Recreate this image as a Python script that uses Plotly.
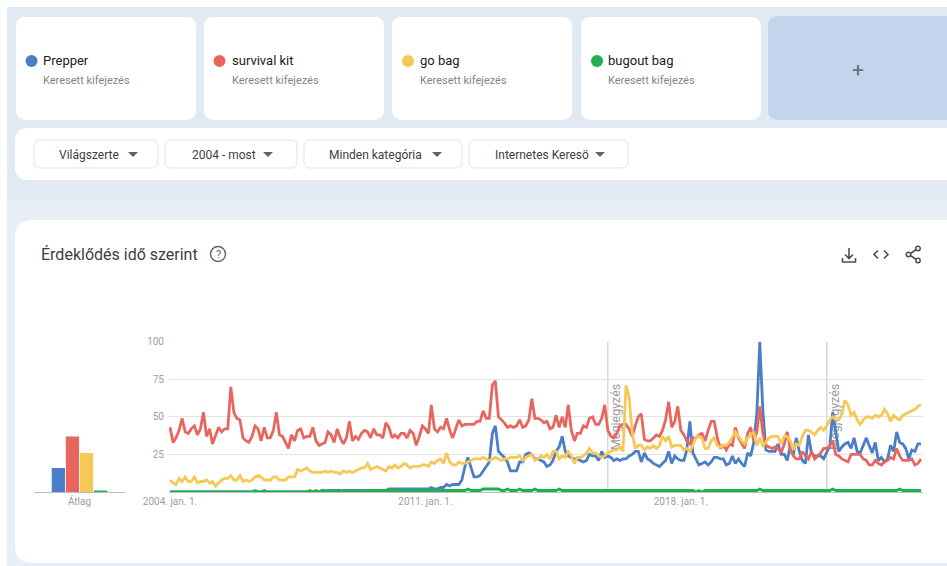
import pandas as pd
import plotly.graph_objects as go

W, H = 947, 566

series_names = ["Prepper", "survival kit", "go bag", "bugout bag"]
series_colors = ["#4C7EC8", "#E9665F", "#F6C855", "#22AE52"]
subtitle = "Keresett kifejezés"
filters = ["Világszerte", "2004 - most", "Minden kategória", "Internetes Keresö"]
title_text = "Érdeklődés idő szerint"
avg_label = "Átlag"
y_ticks = [25, 50, 75, 100]
x_tick_dates = ["2004-01-01", "2011-01-01", "2018-01-01"]
x_tick_labels = ["2004. jan. 1.", "2011. jan. 1.", "2018. jan. 1."]
note_label = "Megjegyzés"
note_dates = ["2016-01-01", "2022-01-01"]
averages = [16, 37, 26, 1]

months = pd.date_range("2004-01-01", periods=248, freq="MS")

prepper = [
 0,0,0,0,0,0,0,0,0,0,0,0,0,0,0,0,0,0,0,0,0,0,0,0,0,0,0,0,0,0,0,0,0,0,0,0,0,0,0,0,
 0,0,0,0,0,0,0,0,0,0,1,0,1,1,1,1,0,1,1,1,1,1,1,1,1,1,1,1,1,1,1,1,2,2,2,2,2,2,2,2,
 2,2,2,2,2,2,3,2,2,3,3,5,4,5,5,5,8,17,23,16,10,10,11,14,17,20,39,44,27,25,23,20,14,14,14,20,20,25,26,25,
 22,22,21,20,17,18,21,27,30,37,27,24,23,22,22,21,20,21,25,24,24,21,27,23,24,23,21,22,21,22,22,24,25,27,27,20,26,22,21,19,
 18,17,19,21,27,19,24,22,21,21,28,47,26,22,18,19,20,18,20,23,23,22,22,18,19,24,19,22,19,17,26,24,33,53,100,54,28,27,27,27,
 32,25,25,21,31,25,36,27,21,19,38,26,24,24,24,22,26,31,53,39,27,30,32,33,29,36,27,26,31,36,31,26,33,21,23,20,22,31,27,40,
 33,32,29,22,28,27,32,32]
survival_kit = [
 43,33,36,41,49,40,39,42,44,38,42,53,37,42,32,37,43,40,42,42,70,53,49,48,36,34,33,37,44,42,34,43,36,36,41,53,38,37,33,29,
 38,34,41,42,36,37,37,43,34,31,32,33,40,38,33,42,36,32,36,47,34,37,35,39,41,40,36,42,38,38,36,46,43,36,38,36,39,39,36,41,
 39,31,37,44,42,39,58,42,40,43,42,49,41,36,42,48,44,45,45,45,45,47,47,54,49,49,71,74,50,48,46,43,44,43,44,48,43,44,48,62,
 49,49,48,46,47,42,43,51,43,50,43,58,41,34,39,39,44,43,49,50,45,45,49,58,41,37,36,39,44,45,45,42,37,44,50,52,35,34,34,36,
 38,37,41,48,60,43,47,57,41,38,34,32,36,36,38,39,34,41,47,47,36,29,31,28,32,31,43,36,32,29,39,43,34,40,57,39,31,30,29,30,
 29,26,32,40,28,24,22,22,27,24,22,27,22,24,26,29,29,31,34,25,24,22,21,20,25,25,25,25,22,21,18,18,21,19,18,20,21,23,22,29,
 24,21,21,21,22,18,19,22]
go_bag = [
 8,6,5,9,7,10,7,7,10,6,7,7,8,6,7,4,6,8,9,9,11,8,8,11,7,8,7,8,10,11,10,8,8,8,10,10,8,8,8,10,
 10,10,15,14,15,16,14,13,13,13,13,14,13,14,13,13,12,14,13,14,13,14,15,16,16,19,15,16,17,16,15,14,17,16,18,16,17,19,18,16,
 17,17,17,18,18,17,20,19,21,22,19,26,20,18,18,20,19,19,20,21,22,22,22,23,22,21,22,23,22,21,22,22,23,23,23,24,21,23,24,25,
 21,22,24,23,25,22,27,27,22,24,23,27,24,19,23,23,24,26,29,26,26,24,23,24,26,27,28,28,30,27,71,63,39,29,31,31,28,30,29,31,
 29,31,37,34,37,30,31,31,31,28,29,27,32,36,37,36,29,29,34,36,31,30,31,31,33,37,40,37,34,32,36,38,40,31,36,31,33,36,37,37,
 37,32,37,37,34,28,32,31,37,41,41,40,38,41,43,41,44,48,50,48,48,52,61,58,51,53,48,45,48,50,50,49,51,50,51,55,52,47,51,49,
 48,51,52,53,54,55,57,58]
bugout_bag = [
 0,0,0,0,0,0,0,0,0,0,0,0,0,0,0,0,0,0,0,0,0,0,0,0,0,0,0,0,1,0,0,1,0,0,0,0,0,0,0,0,
 0,0,0,0,0,0,1,0,1,0,1,1,0,1,0,1,1,0,1,0,1,1,0,1,1,0,1,1,1,1,1,1,1,1,1,1,1,1,1,1,
 1,1,1,1,1,1,1,1,1,1,1,1,1,1,1,1,1,1,2,1,1,1,1,2,2,2,2,2,2,1,1,2,1,1,1,2,1,1,1,1,
 2,1,1,1,1,1,1,1,2,1,1,1,1,1,1,1,1,1,1,1,1,1,1,1,1,1,1,1,1,1,1,1,1,1,1,1,1,1,1,1,
 1,1,1,1,1,1,1,1,1,1,1,1,1,0,1,0,1,1,1,1,1,1,1,1,1,1,1,1,1,1,1,1,1,1,2,1,1,1,1,1,
 1,1,1,1,1,1,1,1,1,1,1,1,1,1,1,1,1,1,2,1,1,1,1,1,1,1,1,1,1,1,1,1,1,1,1,1,1,1,1,1,
 2,1,1,1,1,1,1,1]
all_values = [prepper, survival_kit, go_bag, bugout_bag]
for v in all_values:
    if len(v) != 248:
        raise SystemExit(f"bad length {len(v)}")


def X(x):
    return x / W


def Y(y):
    return 1 - y / H


def path(cmds):
    out = []
    for c in cmds:
        letter, nums = c[0], c[1:]
        pts = " ".join(f"{X(nums[i]):.5f},{Y(nums[i+1]):.5f}" for i in range(0, len(nums), 2))
        out.append(letter + " " + pts)
    return " ".join(out)


def rrect(x0, y0, x1, y1, r, fill, line=None, lw=0):
    d = path([
        ("M", x0 + r, y0), ("L", x1 - r, y0), ("Q", x1, y0, x1, y0 + r),
        ("L", x1, y1 - r), ("Q", x1, y1, x1 - r, y1), ("L", x0 + r, y1),
        ("Q", x0, y1, x0, y1 - r), ("L", x0, y0 + r), ("Q", x0, y0, x0 + r, y0),
    ]) + " Z"
    return dict(type="path", path=d, xref="paper", yref="paper", layer="below",
                fillcolor=fill, line=dict(color=line or "rgba(0,0,0,0)", width=lw))


def stroke(cmds, color="#4b5055", lw=1.6):
    return dict(type="path", path=path(cmds), xref="paper", yref="paper", layer="above",
                line=dict(color=color, width=lw))


def circle(cx, cy, r, fill, line=None, lw=0):
    return dict(type="circle", xref="paper", yref="paper", layer="below",
                x0=X(cx - r), x1=X(cx + r), y0=Y(cy + r), y1=Y(cy - r),
                fillcolor=fill, line=dict(color=line or "rgba(0,0,0,0)", width=lw))


def text(x, y, s, size, color, anchor="left", family="Roboto, Arial, sans-serif"):
    return dict(x=X(x), y=Y(y), xref="paper", yref="paper", text=s, showarrow=False,
                xanchor=anchor, yanchor="middle", align=anchor, borderpad=0,
                font=dict(family=family, size=size, color=color))


shapes = [
    rrect(7, 7, 960, 200, 0, "#E1EAF3"),
    rrect(7, 200, 960, 575, 0, "#E9EFF7"),
    rrect(15, 128, 965, 180, 13, "#FFFFFF"),
    rrect(15, 220, 965, 563, 18, "#FFFFFF"),
    rrect(768, 16, 965, 120, 11, "#C2D5EC"),
]
annotations = []

card_x = [16, 204, 392, 581]
dot_x = [31.5, 219.5, 408, 597]
label_x = [42, 231, 419, 607]
for i, name in enumerate(series_names):
    shapes.append(rrect(card_x[i], 17, card_x[i] + 180, 120, 10, "#FFFFFF"))
    shapes.append(circle(dot_x[i], 61, 6, series_colors[i]))
    annotations.append(text(label_x[i], 60.5, name, 13, "#202124"))
    annotations.append(text(label_x[i], 80, subtitle, 11, "#80868B"))
annotations.append(text(858, 70, "+", 21, "#66727F", "center"))

btn_x = [(34, 158), (165, 297), (304, 462), (469, 628)]
btn_text = [89, 223.5, 375.5, 541.5]
tri_x = [133, 268, 437, 600]
for i, f in enumerate(filters):
    shapes.append(rrect(btn_x[i][0], 140, btn_x[i][1], 168, 6, "#FFFFFF", "#DFE1E5", 1))
    annotations.append(text(btn_text[i], 155, f, 12, "#3C4043", "center"))
    tx = tri_x[i]
    tri = rrect(0, 0, 1, 1, 0, "#5F6368")
    tri["path"] = path([("M", tx - 5, 152), ("L", tx + 5, 152), ("L", tx, 157)]) + " Z"
    tri["layer"] = "above"
    shapes.append(tri)

annotations.append(text(40, 254, title_text, 16, "#3C4043"))
shapes.append(circle(218, 254, 7.5, "rgba(0,0,0,0)", "#5F6368", 1.4))
annotations.append(text(218, 254.5, "?", 11, "#5F6368", "center"))

# toolbar icons
shapes += [
    stroke([("M", 849, 248), ("L", 849, 258), ("M", 845, 254.5), ("L", 849, 258.5), ("L", 853, 254.5)]),
    stroke([("M", 842.5, 258), ("L", 842.5, 262), ("L", 855.5, 262), ("L", 855.5, 258)]),
    stroke([("M", 878, 250.5), ("L", 874, 254.5), ("L", 878, 258.5), ("M", 884, 250.5), ("L", 888, 254.5), ("L", 884, 258.5)]),
    stroke([("M", 917, 249), ("L", 909, 254.5), ("L", 917, 260)]),
    circle(918, 248.5, 2.2, "#FFFFFF", "#4B5055", 1.5),
    circle(908.5, 254.5, 2.2, "#FFFFFF", "#4B5055", 1.5),
    circle(918, 260.5, 2.2, "#FFFFFF", "#4B5055", 1.5),
]
for s in shapes[-3:]:
    s["layer"] = "above"

# note markers, drawn beneath the lines
for d in note_dates:
    shapes.append(dict(type="line", xref="x2", yref="y2", x0=d, x1=d, y0=0, y1=100,
                       layer="below", line=dict(color="#CFCFCF", width=1.2)))
    start = pd.Timestamp(d)
    shapes.append(dict(type="rect", xref="x2", yref="y2",
                       x0=start + pd.Timedelta(days=20), x1=start + pd.Timedelta(days=120),
                       y0=36, y1=64, layer="below",
                       fillcolor="rgba(0,0,0,0)", line=dict(width=0),
                       label=dict(text=note_label, textangle=-90, textposition="middle center",
                                  font=dict(family="Roboto, Arial, sans-serif", size=12.5, color="#9A9A9A"))))

fig = go.Figure()

for name, avg, col in zip(series_names, averages, series_colors):
    fig.add_trace(go.Bar(x=[avg_label], y=[avg], name=name, marker=dict(color=col, line=dict(width=0)),
                         xaxis="x", yaxis="y", showlegend=False, hoverinfo="skip"))

for name, vals, col in zip(series_names, all_values, series_colors):
    fig.add_trace(go.Scatter(x=months, y=vals, name=name, mode="lines", cliponaxis=False,
                             line=dict(color=col, width=2.8, shape="linear"),
                             xaxis="x2", yaxis="y2", showlegend=False))

y_dom = [Y(492), Y(341.7)]
tick_font = dict(family="Roboto, Arial, sans-serif", size=10, color="#9AA0A6")

fig.update_layout(
    width=W, height=H, autosize=False,
    margin=dict(l=0, r=0, t=0, b=0, autoexpand=False),
    paper_bgcolor="#FFFFFF", plot_bgcolor="rgba(0,0,0,0)",
    barmode="group", bargap=0.38, bargroupgap=0.06,
    shapes=shapes, annotations=annotations,
    xaxis=dict(domain=[X(34), X(125)], type="category", showgrid=False, zeroline=False, automargin=False,
               showline=True, linecolor="#BDBDBD", linewidth=1.2, ticks="", tickfont=tick_font,
               ticklen=0, fixedrange=True),
    yaxis=dict(domain=y_dom, range=[0, 100], visible=False, fixedrange=True, automargin=False),
    xaxis2=dict(domain=[X(169), X(923)], type="date", anchor="y2", automargin=False,
                range=["2003-12-22", "2024-08-21"], tickmode="array",
                tickvals=x_tick_dates, ticktext=x_tick_labels, tickfont=tick_font,
                showgrid=False, zeroline=False, showline=True, linecolor="#BDBDBD", linewidth=1,
                ticks="", fixedrange=True),
    yaxis2=dict(domain=y_dom, range=[0, 100], anchor="x2", tickmode="array", tickvals=y_ticks,
                automargin=False,
                tickfont=tick_font, showgrid=True, gridcolor="#E3E3E3", gridwidth=1,
                zeroline=False, showline=False, ticks="", ticklabelstandoff=4, fixedrange=True),
)

fig.write_html("out.html", config={"displayModeBar": False},
               post_script="document.body.style.margin='0';document.documentElement.style.overflow='hidden';")
